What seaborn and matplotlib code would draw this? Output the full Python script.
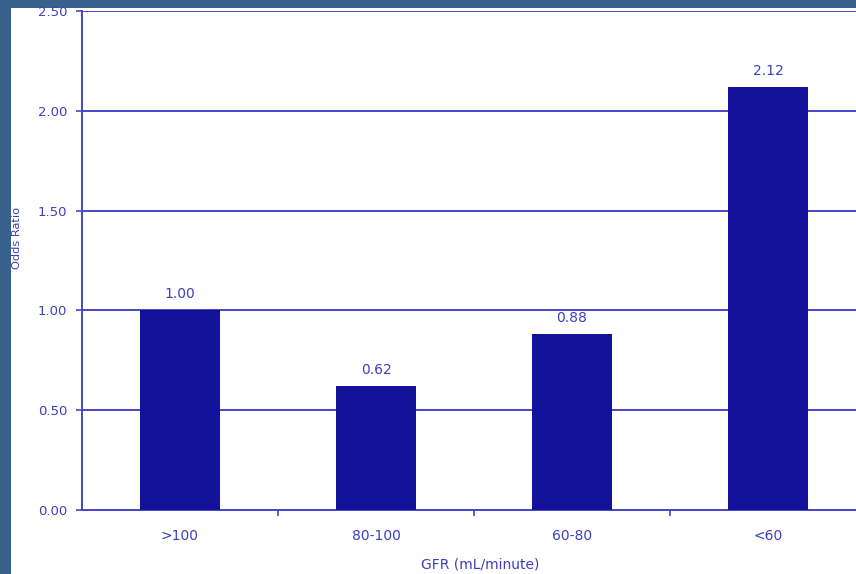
import matplotlib
matplotlib.use("Agg")
import matplotlib.pyplot as plt
import matplotlib.patches as mpatches
import seaborn as sns
import pandas as pd

categories = [">100", "80-100", "60-80", "<60"]
odds_ratio = [1.00, 0.62, 0.88, 2.12]
y_ticks = [0.0, 0.5, 1.0, 1.5, 2.0, 2.5]

sns.set_theme(style="white")
plt.rcParams["font.family"] = ["DejaVu Sans"]

bar_color = "#11119a"
line_color = "#4646c8"
text_color = "#3e3ec0"
frame_color = "#37608c"

fig = plt.figure(figsize=(8.56, 5.74), dpi=100)
fig.patch.set_facecolor(frame_color)
# white slide panel behind the chart
panel = mpatches.Rectangle((11 / 856, 0), 1, 1 - 8 / 574,
                           transform=fig.transFigure,
                           facecolor="white", edgecolor="none", zorder=-10)
fig.patches.append(panel)

ax = fig.add_axes([82 / 856, 1 - 510 / 574, 1 - 82 / 856, (510 - 11) / 574])
ax.set_zorder(5)
ax.set_facecolor("none")

df = pd.DataFrame({"GFR": categories, "OR": odds_ratio})
sns.barplot(data=df, x="GFR", y="OR", color=bar_color, saturation=1,
            width=0.41, linewidth=0, ax=ax, zorder=3)

ax.set_ylim(0, 2.5)
ax.set_xlim(-0.5, -0.5 + (856 - 82) / 196)
ax.set_yticks(y_ticks)
ax.set_yticklabels([f"{v:.2f}" for v in y_ticks])
ax.yaxis.grid(True, color=line_color, linewidth=1.4, zorder=0)
ax.set_axisbelow(True)

for s in ["top", "right"]:
    ax.spines[s].set_visible(False)
for s in ["left", "bottom"]:
    ax.spines[s].set_color(line_color)
    ax.spines[s].set_linewidth(1.4)

ax.tick_params(axis="y", which="major", length=4.5, width=1.2, color=line_color,
               labelcolor=text_color, labelsize=9.5, left=True, pad=6)
ax.tick_params(axis="x", which="major", length=0, labelcolor=text_color,
               labelsize=10, pad=14)
ax.set_xticks([0.5, 1.5, 2.5], minor=True)
ax.tick_params(axis="x", which="minor", length=4, width=1.2, color=line_color,
               bottom=True)

ax.set_xlabel("")
ax.set_ylabel("")
fig.text(480 / 856, 1 - 564 / 574, "GFR (mL/minute)", ha="center", va="center",
         color=text_color, fontsize=10)
fig.text(17 / 856, 1 - 238 / 574, "Odds Ratio", ha="center", va="center",
         rotation=90, color=text_color, fontsize=8.2)

for i, v in enumerate(odds_ratio):
    ax.annotate(f"{v:.2f}", (i, v), xytext=(0, 11.5), textcoords="offset points",
                ha="center", va="center", color=text_color, fontsize=10)

fig.savefig("out.png", dpi=100, facecolor=fig.get_facecolor())
